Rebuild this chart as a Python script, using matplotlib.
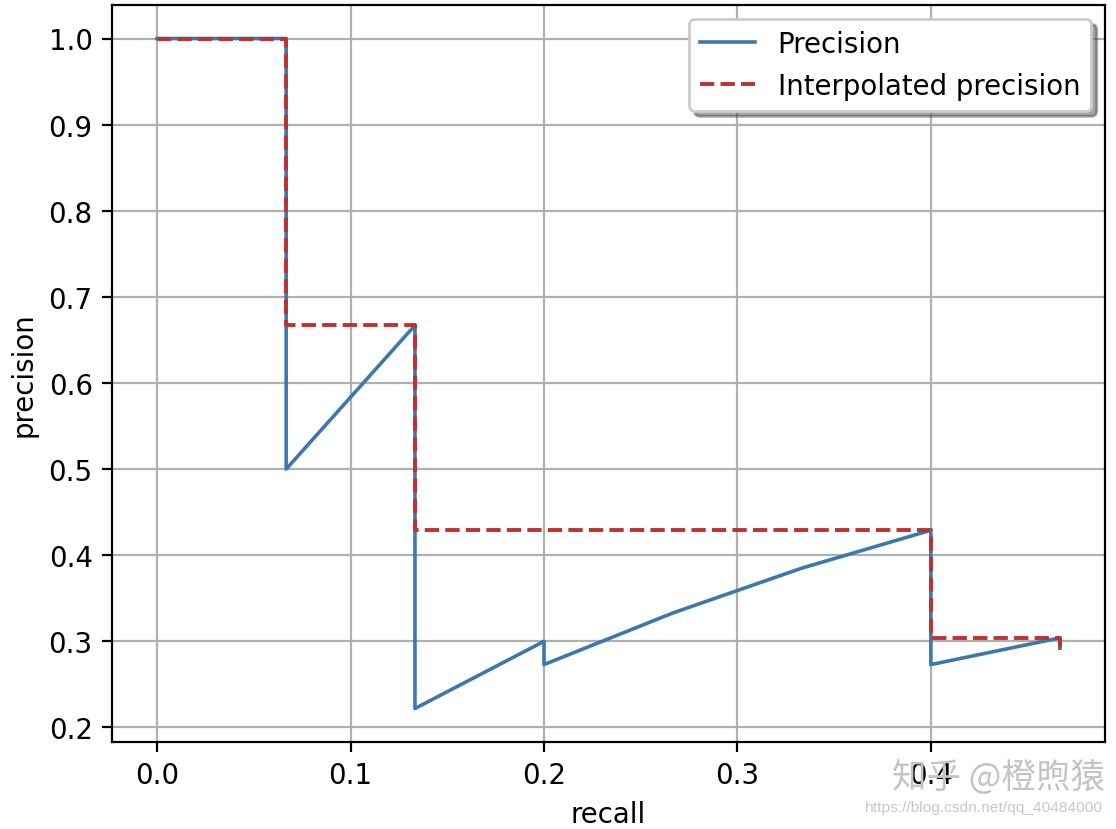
import matplotlib
matplotlib.use("Agg")
import matplotlib.pyplot as plt

# recall at each rank (15 relevant items in total)
recall = [0.0, 0.0667, 0.0667, 0.1333, 0.1333, 0.1333, 0.1333, 0.1333, 0.1333, 0.1333,
          0.2, 0.2, 0.2667, 0.3333, 0.4, 0.4, 0.4, 0.4, 0.4, 0.4, 0.4, 0.4, 0.4,
          0.4667, 0.4667]
precision = [1.0, 1.0, 0.5, 0.667, 0.5, 0.4, 0.333, 0.286, 0.25, 0.222,
             0.3, 0.273, 0.333, 0.385, 0.429, 0.4, 0.375, 0.353, 0.333, 0.316, 0.3, 0.286, 0.273,
             0.304, 0.292]
interp_precision = [1.0, 1.0, 0.667, 0.667, 0.429, 0.429, 0.429, 0.429, 0.429, 0.429,
                    0.429, 0.429, 0.429, 0.429, 0.429, 0.304, 0.304, 0.304, 0.304, 0.304, 0.304, 0.304, 0.304,
                    0.304, 0.292]

DPI = 199
fig = plt.figure(figsize=(1116 / DPI, 830 / DPI), dpi=DPI)
ax = fig.add_axes([112 / 1116, 1 - 743 / 830, 993 / 1116, 737 / 830])
ax.plot(recall, precision, color='#3a78b0', lw=1.3, label='Precision')
ax.plot(recall, interp_precision, '--', color='#c0302e', lw=1.4, label='Interpolated precision')
ax.set_xlabel('recall')
ax.set_ylabel('precision')
ax.grid(True)
ax.legend(loc='upper right', shadow=True)

fig.text(1105 / 1116, 1 - 778 / 830, '知乎 @橙煦猿', fontsize=12.5, color='#c4c4c4',
         ha='right', va='center', family=['Noto Sans CJK SC', 'DejaVu Sans'])
fig.text(1103 / 1116, 1 - 808 / 830, 'https://blog.csdn.net/qq_40484000', fontsize=5.6,
         color='#c8c8c8', ha='right', va='center', family='Liberation Sans')

fig.savefig('out.png', dpi=DPI)
